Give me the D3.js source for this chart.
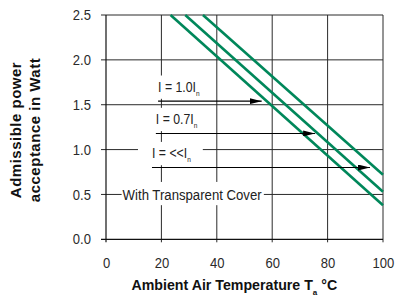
<!DOCTYPE html>
<html><head><meta charset="utf-8">
<script src="https://cdn.jsdelivr.net/npm/d3@7"></script>
<style>
html,body{margin:0;padding:0;background:#fff;}
svg{display:block;}
text{font-family:"Liberation Sans",Arial,sans-serif;}
</style></head>
<body>
<svg id="c" width="396" height="300"></svg>
<script>
// ---- data ----
const xTicks = [0, 20, 40, 60, 80, 100];
const yTicks = [0.0, 0.5, 1.0, 1.5, 2.0, 2.5];
const seriesNames = ["I = 1.0I", "I = 0.7I", "I = <<I"];
// curve endpoints (temperature °C, power W)
const curveT = [[23.3, 100], [28.6, 100], [35.0, 100]];
const curveP = [[2.5, 0.38], [2.5, 0.53], [2.5, 0.72]];
// arrows (power level, start temp, end temp)
const arrowP = [1.54, 1.18, 0.80];
const arrowT0 = [18.8, 18.0, 16.6];
const arrowT1 = [56.2, 75.5, 95.3];
const coverLabel = "With Transparent Cover";
const coverT = 6, coverP = 0.5;
const yTitle = ["Admissible power", "acceptance in Watt"];
const xTitle = "Ambient Air Temperature T";

// ---- layout ----
const svg = d3.select("#c");
const x = d3.scaleLinear().domain([0, 100]).range([106, 383]);
const y = d3.scaleLinear().domain([0, 2.5]).range([239.3, 15]);
const green = "#00875a";
const gridCol = "#2a2a2a";

// horizontally condensed text (narrow font emulation)
function squeeze(t, s) {
  const tx = +t.attr("x") || 0, ty = +t.attr("y") || 0;
  t.attr("x", 0).attr("y", 0).attr("transform", `translate(${tx},${ty}) scale(${s},1)`);
  return t;
}

const g = svg.append("g");
g.selectAll("line.vg").data(xTicks.slice(1)).join("line")
  .attr("x1", d => x(d)).attr("x2", d => x(d))
  .attr("y1", y(2.5)).attr("y2", y(0) + 3)
  .attr("stroke", gridCol).attr("stroke-width", 1);
g.selectAll("line.hg").data(yTicks.slice(1)).join("line")
  .attr("x1", x(0) - 5).attr("x2", x(100))
  .attr("y1", d => y(d)).attr("y2", d => y(d))
  .attr("stroke", gridCol).attr("stroke-width", 1);
g.append("line").attr("x1", x(0)).attr("x2", x(0)).attr("y1", y(2.5)).attr("y2", y(0) + 3)
  .attr("stroke", "#111").attr("stroke-width", 1.2);
g.append("line").attr("x1", x(0) - 5).attr("x2", x(100)).attr("y1", y(0)).attr("y2", y(0))
  .attr("stroke", "#111").attr("stroke-width", 1.2);

// axis labels via d3 axes (no tick lines)
const tickS = 0.9;
const ax = svg.append("g").attr("transform", `translate(0,${y(0)})`)
  .call(d3.axisBottom(x).tickValues(xTicks).tickSize(0).tickPadding(18).tickFormat(d3.format("d")));
const ay = svg.append("g").attr("transform", `translate(${x(0)},0)`)
  .call(d3.axisLeft(y).tickValues(yTicks).tickSize(0).tickPadding(15).tickFormat(d3.format(".1f")));
[ax, ay].forEach(a => {
  a.select(".domain").remove();
  a.selectAll("text").attr("font-size", 14.5).attr("fill", "#2a2a2a")
    .style("font-family", '"Liberation Sans",Arial,sans-serif')
    .attr("transform", `scale(${tickS},1)`);
});
ay.selectAll("text").attr("x", -15 / tickS);

// label layer
const lab = svg.append("g");
const labS = 0.82;
seriesNames.forEach((name, i) => {
  const px = x(arrowT0[i]), py = y(arrowP[i]) - 9.5;
  const t = lab.append("text").attr("x", px).attr("y", py).attr("font-size", 15).attr("fill", "#222");
  t.append("tspan").text(name);
  t.append("tspan").text("n").attr("font-size", 8).attr("dy", 4);
  squeeze(t, labS);
  const bb = t.node().getBBox();
  lab.insert("rect", "text").attr("x", px + bb.x * labS - 14).attr("y", py + bb.y - 3)
    .attr("width", bb.width * labS + 26).attr("height", bb.height + 4).attr("fill", "#fff");
});
const coverS = 0.85;
const cx0 = x(coverT), cy0 = y(coverP) + 5.5;
const ct = lab.append("text").attr("x", cx0).attr("y", cy0)
  .attr("font-size", 15.5).attr("fill", "#222").text(coverLabel);
squeeze(ct, coverS);
const cb = ct.node().getBBox();
lab.insert("rect", "text").attr("x", cx0 + cb.x * coverS - 1).attr("y", cy0 + cb.y - 4)
  .attr("width", cb.width * coverS + 3).attr("height", cb.height + 6).attr("fill", "#fff");

// curves
const line = d3.line().x(d => x(d[0])).y(d => y(d[1]));
svg.append("g").selectAll("path").data(curveT.map((ts, i) => ts.map((t, j) => [t, curveP[i][j]])))
  .join("path").attr("d", line).attr("fill", "none").attr("stroke", green).attr("stroke-width", 2.6);

// arrows
svg.append("defs").append("marker").attr("id", "ah").attr("viewBox", "0 0 12 6")
  .attr("refX", 12).attr("refY", 3).attr("markerWidth", 12).attr("markerHeight", 6)
  .attr("markerUnits", "userSpaceOnUse").attr("orient", "auto")
  .append("path").attr("d", "M0,0 L12,3 L0,6 Z").attr("fill", "#000");
svg.append("g").selectAll("line").data(arrowP).join("line")
  .attr("x1", (d, i) => x(arrowT0[i])).attr("x2", (d, i) => x(arrowT1[i]))
  .attr("y1", d => y(d)).attr("y2", d => y(d))
  .attr("stroke", "#000").attr("stroke-width", 1.1).attr("marker-end", "url(#ah)");

// titles
const yt = svg.append("text").attr("transform", `translate(0,130) rotate(-90)`)
  .attr("text-anchor", "middle").attr("font-weight", "bold").attr("font-size", 15)
  .attr("letter-spacing", 0.5).attr("fill", "#111");
yt.append("tspan").attr("x", 0).attr("y", 21).text(yTitle[0]);
yt.append("tspan").attr("x", 0).attr("y", 39.5).text(yTitle[1]);

const xt = svg.append("text").attr("x", 131.5).attr("y", 290)
  .attr("font-weight", "bold").attr("font-size", 14.2).attr("fill", "#111");
xt.append("tspan").text(xTitle);
xt.append("tspan").text("a").attr("font-size", 8).attr("dy", 5);
xt.append("tspan").text(" °C").attr("dy", -5);
</script>
</body></html>
